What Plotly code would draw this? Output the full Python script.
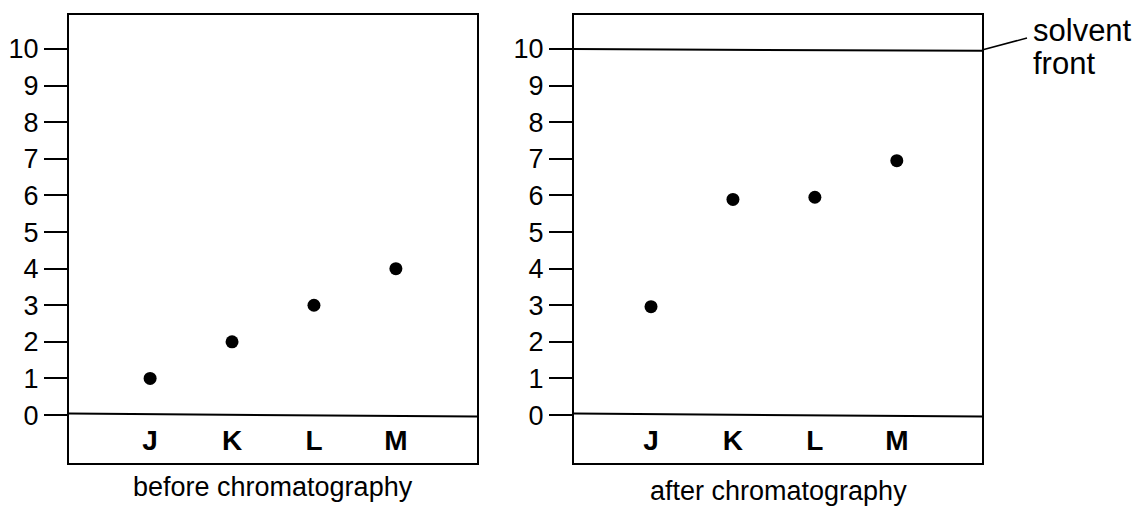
import plotly.graph_objects as go

categories = ["J", "K", "L", "M"]
before_values = [1.0, 2.0, 3.0, 4.0]
after_values = [2.96, 5.89, 5.95, 6.95]
y_ticks = [0, 1, 2, 3, 4, 5, 6, 7, 8, 9, 10]
solvent_front = 10
titles = ["before chromatography", "after chromatography"]

xpos = [1, 2, 3, 4]
XRS = [[0.01, 4.99], [0.06, 5.04]]
YR = [-1.31, 10.93]
FONT = "Arial, Liberation Sans, sans-serif"
W, H = 1139, 506

fig = go.Figure()

doms = [[69 / W, 477 / W], [574 / W, 982 / W]]
ydom = [(H - 463) / H, (H - 15) / H]
title_y = [487, 491]

for i, vals in enumerate([before_values, after_values]):
    xa = "x" if i == 0 else "x2"
    ya = "y" if i == 0 else "y2"
    XR = XRS[i]
    fig.add_trace(go.Scatter(x=xpos, y=vals, mode="markers", xaxis=xa, yaxis=ya,
                             marker=dict(size=13, color="black"), showlegend=False,
                             hoverinfo="skip"))
    fig.add_trace(go.Scatter(x=xpos, y=[-0.77] * 4, mode="text", text=categories,
                             xaxis=xa, yaxis=ya, showlegend=False, hoverinfo="skip",
                             textfont=dict(family=FONT, size=28, color="black", weight="bold")))
    # baseline
    fig.add_shape(type="line", xref=xa, yref=ya, x0=XR[0], x1=XR[1], y0=0.04, y1=-0.04,
                  line=dict(color="black", width=2))
    fig.add_annotation(text=titles[i], xref="paper", yref="paper",
                       x=(doms[i][0] + doms[i][1]) / 2, y=1 - title_y[i] / H,
                       xanchor="center", yanchor="middle", showarrow=False,
                       font=dict(family=FONT, size=27, color="black"))

# solvent front line on right panel
fig.add_shape(type="line", xref="x2", yref="y2", x0=XRS[1][0], x1=XRS[1][1],
              y0=solvent_front, y1=solvent_front - 0.05, line=dict(color="black", width=2))
# leader line
fig.add_shape(type="line", xref="paper", yref="paper",
              x0=982 / W, y0=1 - 50 / H, x1=1027 / W, y1=1 - 38 / H,
              line=dict(color="black", width=1.5))
fig.add_annotation(text="solvent", xref="paper", yref="paper",
                   x=1031 / W, y=1 - 31 / H, xanchor="left", yanchor="middle",
                   showarrow=False, font=dict(family=FONT, size=31, color="black"))
fig.add_annotation(text="front", xref="paper", yref="paper",
                   x=1031 / W, y=1 - 64 / H, xanchor="left", yanchor="middle",
                   showarrow=False, font=dict(family=FONT, size=31, color="black"))

axis_common = dict(showline=True, linecolor="black", linewidth=2, mirror=True,
                   showgrid=False, zeroline=False)
ytick_common = dict(range=YR, tickvals=y_ticks, ticks="outside", ticklen=23,
                    tickwidth=2, tickcolor="black",
                    tickfont=dict(family=FONT, size=27, color="black"))

fig.update_layout(
    width=W, height=H, margin=dict(l=0, r=0, t=0, b=0),
    plot_bgcolor="white", paper_bgcolor="white",
    xaxis=dict(domain=doms[0], range=XRS[0], showticklabels=False, ticks="", anchor="y", **axis_common),
    xaxis2=dict(domain=doms[1], range=XRS[1], showticklabels=False, ticks="", anchor="y2", **axis_common),
    yaxis=dict(domain=ydom, anchor="x", **ytick_common, **axis_common),
    yaxis2=dict(domain=ydom, anchor="x2", **ytick_common, **axis_common),
)

fig.write_html("out.html", config={"displayModeBar": False},
               post_script="document.body.style.margin='0';document.body.style.overflow='hidden';")
